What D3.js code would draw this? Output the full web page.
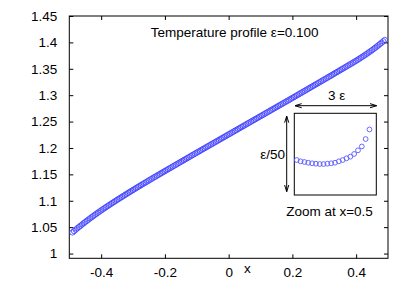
<!DOCTYPE html>
<html><head><meta charset="utf-8">
<script src="https://cdn.jsdelivr.net/npm/d3@7"></script>
<style>body{margin:0;background:#fff}svg{display:block}text{font-family:"Liberation Sans",Arial,sans-serif;font-size:13.5px;fill:#000}</style>
</head><body><svg id="c" width="409" height="286"></svg>
<script>
const xTicks = [-0.4, -0.2, 0, 0.2, 0.4];
const yTicks = [1, 1.05, 1.1, 1.15, 1.2, 1.25, 1.3, 1.35, 1.4, 1.45];
const titleText = "Temperature profile ε=0.100";
const xLabel = "x";
const profileX = [-0.49,-0.485,-0.48,-0.475,-0.47,-0.465,-0.46,-0.455,-0.45,-0.445,
 -0.44,-0.435,-0.43,-0.425,-0.42,-0.415,-0.41,-0.405,-0.40,-0.395,
 -0.39,-0.385,-0.38,-0.375,-0.37,-0.365,-0.36,-0.355,-0.35,-0.345,
 -0.34,-0.335,-0.33,-0.325,-0.32,-0.315,-0.31,-0.305,-0.30,-0.295,
 -0.29,-0.285,-0.28,-0.275,-0.27,-0.265,-0.26,-0.255,-0.25,-0.245,
 -0.24,-0.235,-0.23,-0.225,-0.22,-0.215,-0.21,-0.205,-0.20,-0.195,
 -0.19,-0.185,-0.18,-0.175,-0.17,-0.165,-0.16,-0.155,-0.15,-0.145,
 -0.14,-0.135,-0.13,-0.125,-0.12,-0.115,-0.11,-0.105,-0.10,-0.095,
 -0.09,-0.085,-0.08,-0.075,-0.07,-0.065,-0.06,-0.055,-0.05,-0.045,
 -0.04,-0.035,-0.03,-0.025,-0.02,-0.015,-0.01,-0.005,0.00,0.005,
 0.01,0.015,0.02,0.025,0.03,0.035,0.04,0.045,0.05,0.055,
 0.06,0.065,0.07,0.075,0.08,0.085,0.09,0.095,0.10,0.105,
 0.11,0.115,0.12,0.125,0.13,0.135,0.14,0.145,0.15,0.155,
 0.16,0.165,0.17,0.175,0.18,0.185,0.19,0.195,0.20,0.205,
 0.21,0.215,0.22,0.225,0.23,0.235,0.24,0.245,0.25,0.255,
 0.26,0.265,0.27,0.275,0.28,0.285,0.29,0.295,0.30,0.305,
 0.31,0.315,0.32,0.325,0.33,0.335,0.34,0.345,0.35,0.355,
 0.36,0.365,0.37,0.375,0.38,0.385,0.39,0.395,0.40,0.405,
 0.41,0.415,0.42,0.425,0.43,0.435,0.44,0.445,0.45,0.455,
 0.46,0.465,0.47,0.475,0.48,0.485,0.49];
const profileT = [1.0400,1.0426,1.0452,1.0477,1.0502,1.0526,1.0550,1.0574,1.0597,1.0620,
 1.0643,1.0666,1.0688,1.0710,1.0732,1.0754,1.0775,1.0796,1.0817,1.0838,
 1.0858,1.0878,1.0898,1.0918,1.0938,1.0958,1.0977,1.0997,1.1016,1.1035,
 1.1054,1.1073,1.1092,1.1111,1.1130,1.1149,1.1167,1.1186,1.1204,1.1223,
 1.1241,1.1260,1.1278,1.1296,1.1314,1.1332,1.1350,1.1368,1.1386,1.1404,
 1.1422,1.1440,1.1457,1.1475,1.1492,1.1510,1.1527,1.1545,1.1562,1.1580,
 1.1597,1.1615,1.1632,1.1650,1.1667,1.1685,1.1702,1.1720,1.1737,1.1755,
 1.1772,1.1790,1.1807,1.1825,1.1842,1.1860,1.1877,1.1895,1.1912,1.1929,
 1.1946,1.1964,1.1981,1.1998,1.2015,1.2033,1.2050,1.2067,1.2084,1.2102,
 1.2119,1.2136,1.2153,1.2171,1.2188,1.2205,1.2222,1.2240,1.2257,1.2274,
 1.2291,1.2309,1.2326,1.2343,1.2360,1.2378,1.2395,1.2412,1.2429,1.2447,
 1.2464,1.2481,1.2498,1.2516,1.2533,1.2550,1.2567,1.2585,1.2602,1.2619,
 1.2636,1.2654,1.2671,1.2688,1.2705,1.2723,1.2740,1.2757,1.2774,1.2792,
 1.2809,1.2826,1.2843,1.2861,1.2878,1.2895,1.2912,1.2930,1.2947,1.2965,
 1.2982,1.3000,1.3017,1.3035,1.3052,1.3070,1.3087,1.3105,1.3122,1.3140,
 1.3157,1.3175,1.3192,1.3210,1.3227,1.3245,1.3262,1.3280,1.3297,1.3315,
 1.3332,1.3350,1.3367,1.3385,1.3403,1.3421,1.3438,1.3456,1.3474,1.3492,
 1.3509,1.3527,1.3545,1.3563,1.3580,1.3598,1.3616,1.3634,1.3652,1.3671,
 1.3690,1.3710,1.3729,1.3749,1.3769,1.3790,1.3810,1.3832,1.3853,1.3876,
 1.3898,1.3922,1.3945,1.3970,1.3994,1.4020,1.4045];
// inset: zoom near x=0.5, width 3ε, height ε/50 (relative units 0..1)
const insetX = [0.209,0.223,0.237,0.251,0.265,0.279,0.293,0.307,0.321,0.335,
 0.349,0.363,0.377,0.391,0.405,0.419,0.433,0.447,0.461,0.475];
const insetV = [0.428,0.412,0.404,0.395,0.388,0.383,0.379,0.379,0.383,0.388,
 0.395,0.412,0.428,0.449,0.469,0.502,0.547,0.594,0.685,0.802];
const insetTexts = {width:"3 ε", height:"ε/50", caption:"Zoom at x=0.5"};

const svg = d3.select("#c");
const L = 69.3, R = 388, T = 16, B = 258.3;
const x = d3.scaleLinear().domain([-0.5, 0.5]).range([L, R]);
const y = d3.scaleLinear().domain([0.991, 1.45]).range([B, T]);
const fmt = v => String(+v.toFixed(2));

// axes with inward ticks
const tl = 4;
const gB = svg.append("g").attr("transform", `translate(0,${B})`)
  .call(d3.axisBottom(x).tickValues(xTicks).tickSizeInner(-tl).tickSizeOuter(0).tickPadding(14).tickFormat(fmt));
const gT = svg.append("g").attr("transform", `translate(0,${T})`)
  .call(d3.axisTop(x).tickValues(xTicks).tickSizeInner(-tl).tickSizeOuter(0).tickFormat(""));
const gL = svg.append("g").attr("transform", `translate(${L},0)`)
  .call(d3.axisLeft(y).tickValues(yTicks).tickSizeInner(-tl).tickSizeOuter(0).tickPadding(12).tickFormat(fmt));
const gR = svg.append("g").attr("transform", `translate(${R},0)`)
  .call(d3.axisRight(y).tickValues(yTicks).tickSizeInner(-tl).tickSizeOuter(0).tickFormat(""));
[gB,gT,gL,gR].forEach(g => {
  g.select(".domain").remove();
  g.selectAll("line").attr("stroke","#000");
  g.selectAll("text").attr("font-family",'"Liberation Sans",Arial,sans-serif').attr("font-size","13.5px").attr("fill","#000");
});
gB.selectAll(".tick text").attr("dy","0.35em");
svg.append("rect").attr("x",L).attr("y",T).attr("width",R-L).attr("height",B-T)
  .attr("fill","none").attr("stroke","#000").attr("stroke-width",1);

svg.append("text").attr("x",247.3).attr("y",273).attr("text-anchor","middle").text(xLabel);
svg.append("text").attr("x",234.7).attr("y",37).attr("text-anchor","middle").text(titleText);

// main points
svg.append("g").selectAll("circle").data(profileX).join("circle")
  .attr("cx", d => x(d)).attr("cy", (d,i) => y(profileT[i]))
  .attr("r", 2.7).attr("fill","none").attr("stroke","#3b3bff").attr("stroke-width",0.8);

// inset
const ix = d3.scaleLinear().domain([0.2, 0.5]).range([294.3, 376.3]);
const iy = d3.scaleLinear().domain([0, 1]).range([195, 113.3]);
svg.append("rect").attr("x",294.3).attr("y",113.3).attr("width",82).attr("height",81.7)
  .attr("fill","none").attr("stroke","#000");
svg.append("g").selectAll("circle").data(insetX).join("circle")
  .attr("cx", d => ix(d)).attr("cy", (d,i) => iy(insetV[i]))
  .attr("r", 2.4).attr("fill","none").attr("stroke","#5a5aff").attr("stroke-width",0.9);

function arrow(x1,y1,x2,y2){
  const g = svg.append("g").attr("stroke","#000").attr("fill","none").attr("stroke-width",1);
  g.append("line").attr("x1",x1).attr("y1",y1).attr("x2",x2).attr("y2",y2);
  const ang = Math.atan2(y2-y1,x2-x1), h=7, a=0.3;
  [[x1,y1,ang+Math.PI],[x2,y2,ang]].forEach(([px,py,an]) => {
    const p = `M${px-h*Math.cos(an-a)},${py-h*Math.sin(an-a)}L${px},${py}L${px-h*Math.cos(an+a)},${py-h*Math.sin(an+a)}`;
    g.append("path").attr("d",p);
  });
}
arrow(295, 105.7, 376.7, 105.7);
arrow(286.7, 116, 286.7, 191.7);
svg.append("text").attr("x",336.7).attr("y",100).attr("text-anchor","middle").text(insetTexts.width);
svg.append("text").attr("x",285).attr("y",158.5).attr("text-anchor","end").text(insetTexts.height);
svg.append("text").attr("x",329.5).attr("y",216).attr("text-anchor","middle").text(insetTexts.caption);
</script></body></html>
